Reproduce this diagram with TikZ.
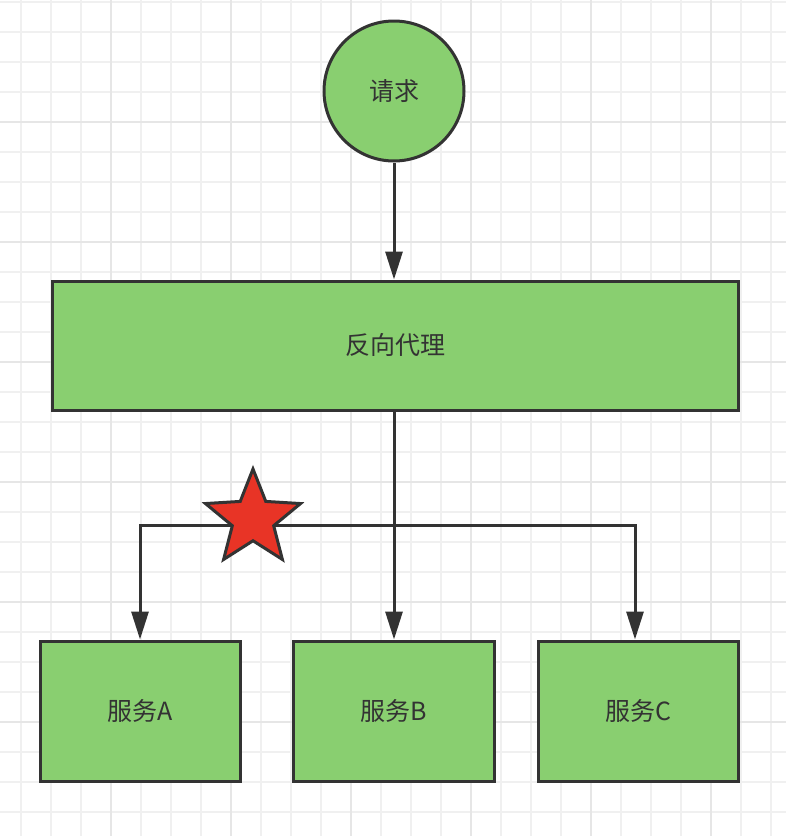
\documentclass[tikz,border=0pt]{standalone}
\usepackage{fontspec}
\newfontfamily\cjk{Noto Sans CJK SC}
\usetikzlibrary{arrows.meta,shapes.geometric}
\definecolor{boxgreen}{RGB}{137,207,112}
\definecolor{edge}{RGB}{51,51,51}
\definecolor{gridminor}{RGB}{240,240,240}
\definecolor{gridmajor}{RGB}{230,230,230}
\definecolor{starred}{RGB}{232,52,38}
\begin{document}
\begin{tikzpicture}[x=1pt,y=-1pt,
  box/.style={draw=edge,line width=3pt,fill=boxgreen,inner sep=0pt,text=edge,font=\cjk\fontsize{25}{30}\selectfont},
  conn/.style={draw=edge,line width=3pt},
  arr/.style={conn,-{Triangle[length=28pt,width=17pt]}}]
\useasboundingbox (0,0) rectangle (786,836);
\fill[white] (0,0) rectangle (786,836);
% grid
\foreach \x in {21,51,...,786} \draw[gridminor,line width=1.5pt] (\x,0) -- (\x,836);
\foreach \y in {2,32,...,836} \draw[gridminor,line width=1.5pt] (0,\y) -- (786,\y);
\foreach \x in {111,231,...,786} \draw[gridmajor,line width=2pt] (\x,0) -- (\x,836);
\foreach \y in {122,242,...,836} \draw[gridmajor,line width=2pt] (0,\y) -- (786,\y);
% nodes
\node[box,circle,minimum size=140pt] (req) at (394,91) {请求};
\node[box,rectangle,minimum width=686pt,minimum height=129pt] (proxy) at (395,345.5) {反向代理};
\node[box,rectangle,minimum width=200pt,minimum height=140pt] (sa) at (140,711) {服务A};
\node[box,rectangle,minimum width=201pt,minimum height=140pt] (sb) at (393.5,711) {服务B};
\node[box,rectangle,minimum width=200pt,minimum height=140pt] (sc) at (638,711) {服务C};
\coordinate (split) at (394,525);
\coordinate (la) at (140,525);
\coordinate (lc) at (635,525);
% connectors
\draw[arr] (req.south) -- (req.south |- proxy.north);
\draw[arr] (proxy.south -| split) -- (split) -- (split |- sb.north);
\draw[arr] (split) -- (la) -- (la |- sa.north);
\draw[arr] (split) -- (lc) -- (lc |- sc.north);
% star
\node[star,star points=5,star point ratio=2.3,minimum size=100pt,inner sep=0pt,draw=edge,line width=3pt,fill=starred] (mark) at (253,519) {};
\end{tikzpicture}
\end{document}
